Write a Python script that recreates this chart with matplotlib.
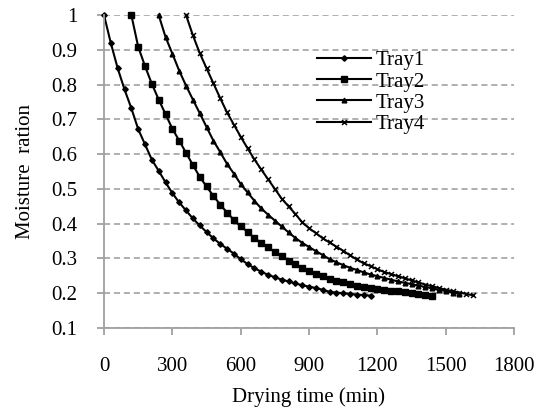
import matplotlib
matplotlib.use("Agg")
import matplotlib.pyplot as plt

plt.rcParams['font.family'] = ['Liberation Serif', 'DejaVu Serif']

t1 = [0, 30, 60, 90, 120, 150, 180, 210, 240, 270, 300, 330, 360, 390, 420, 450, 480, 510, 540, 570,
      600, 630, 660, 690, 720, 750, 780, 810, 840, 870, 900, 930, 960, 990, 1020, 1050, 1080, 1110, 1140, 1170]
mr1 = [1.0, 0.919, 0.847, 0.786, 0.732, 0.672, 0.628, 0.584, 0.552, 0.519,
       0.488, 0.461, 0.438, 0.415, 0.395, 0.376, 0.358, 0.342, 0.328, 0.314,
       0.298, 0.284, 0.272, 0.262, 0.253, 0.246, 0.239, 0.234, 0.228, 0.223,
       0.219, 0.215, 0.210, 0.204, 0.202, 0.200, 0.198, 0.196, 0.195, 0.193]

t2 = [120, 150, 180, 210, 240, 270, 300, 330, 360, 390, 420, 450, 480, 510, 540, 570, 600, 630, 660, 690,
      720, 750, 780, 810, 840, 870, 900, 930, 960, 990, 1020, 1050, 1080, 1110, 1140, 1170, 1200, 1230,
      1260, 1290, 1320, 1350, 1380, 1410, 1440]
mr2 = [1.0, 0.909, 0.853, 0.802, 0.757, 0.715, 0.673, 0.639, 0.604, 0.569,
       0.535, 0.507, 0.480, 0.455, 0.432, 0.411, 0.392, 0.377, 0.359, 0.345,
       0.332, 0.319, 0.306, 0.294, 0.284, 0.273, 0.264, 0.256, 0.249, 0.242,
       0.236, 0.231, 0.227, 0.222, 0.218, 0.214, 0.211, 0.209, 0.207, 0.205,
       0.203, 0.200, 0.198, 0.195, 0.193]

t3 = [240, 270, 300, 330, 360, 390, 420, 450, 480, 510, 540, 570, 600, 630, 660, 690, 720, 750, 780, 810,
      840, 870, 900, 930, 960, 990, 1020, 1050, 1080, 1110, 1140, 1170, 1200, 1230, 1260, 1290, 1320,
      1350, 1380, 1410, 1440, 1470, 1500, 1530, 1560]
mr3 = [1.0, 0.937, 0.889, 0.840, 0.797, 0.757, 0.718, 0.678, 0.639, 0.606,
       0.572, 0.544, 0.514, 0.490, 0.466, 0.444, 0.426, 0.409, 0.392, 0.375,
       0.359, 0.345, 0.333, 0.321, 0.310, 0.298, 0.289, 0.281, 0.273, 0.267,
       0.260, 0.254, 0.249, 0.244, 0.239, 0.234, 0.230, 0.226, 0.222, 0.218,
       0.214, 0.210, 0.206, 0.202, 0.198]

t4 = [360, 390, 420, 450, 480, 510, 540, 570, 600, 630, 660, 690, 720, 750, 780, 810, 840, 870, 900, 930,
      960, 990, 1020, 1050, 1080, 1110, 1140, 1170, 1200, 1230, 1260, 1290, 1320, 1350, 1380, 1410,
      1440, 1470, 1500, 1530, 1560, 1590, 1620]
mr4 = [1.0, 0.942, 0.891, 0.847, 0.804, 0.761, 0.720, 0.685, 0.650, 0.617,
       0.585, 0.556, 0.528, 0.500, 0.472, 0.450, 0.428, 0.404, 0.387, 0.373,
       0.358, 0.346, 0.334, 0.322, 0.309, 0.297, 0.286, 0.278, 0.269, 0.261,
       0.255, 0.249, 0.243, 0.237, 0.231, 0.225, 0.220, 0.215, 0.210, 0.206,
       0.202, 0.198, 0.194]

labels = ["Tray1", "Tray2", "Tray3", "Tray4"]
xticks = [0, 300, 600, 900, 1200, 1500, 1800]
yticks = [0.1, 0.2, 0.3, 0.4, 0.5, 0.6, 0.7, 0.8, 0.9, 1.0]
ytick_labels = ["0.1", "0.2", "0.3", "0.4", "0.5", "0.6", "0.7", "0.8", "0.9", "1"]

fig = plt.figure(figsize=(5.43, 4.11), dpi=100)
ax = fig.add_axes([104/543, 1-328/411, 410/543, 313/411])

grey = "#a0a0a0"
ax.set_xlim(0, 1800)
ax.set_ylim(0.1, 1.0)
ax.set_xticks(xticks)
ax.set_yticks(yticks)
ax.set_yticklabels(ytick_labels)
ax.yaxis.grid(True, linestyle=(0, (4, 2.5)), color="#9a9a9a", linewidth=1.1)
ax.set_axisbelow(True)
for s in ["top", "right"]:
    ax.spines[s].set_visible(False)
for s in ["left", "bottom"]:
    ax.spines[s].set_color(grey)
    ax.spines[s].set_linewidth(1.3)
ax.tick_params(axis="both", direction="out", length=5, width=1.3, color=grey,
               labelsize=15, labelcolor="black")
ax.tick_params(axis="y", pad=14)
ax.tick_params(axis="x", pad=16)

kw = dict(color="black", linewidth=1.5, clip_on=False)
ax.plot(t1, mr1, marker="D", markersize=2.8, label=labels[0], **kw)
ax.plot(t2, mr2, marker="s", markersize=4.2, label=labels[1], **kw)
ax.plot(t3, mr3, marker="^", markersize=3.4, label=labels[2], **kw)
ax.plot(t4, mr4, marker="x", markersize=3.6, markeredgewidth=1.1, label=labels[3], **kw)

ax.set_xlabel("Drying time (min)", fontsize=15, labelpad=8)
ax.set_ylabel("Moisture  ration", fontsize=15, labelpad=12)

ax.legend(loc="upper left", bbox_to_anchor=(0.52, 0.886), frameon=False, fontsize=15,
          handlelength=2.6, handletextpad=0.2, labelspacing=0.08, borderpad=0, borderaxespad=0)

fig.savefig("out.png", dpi=100)
